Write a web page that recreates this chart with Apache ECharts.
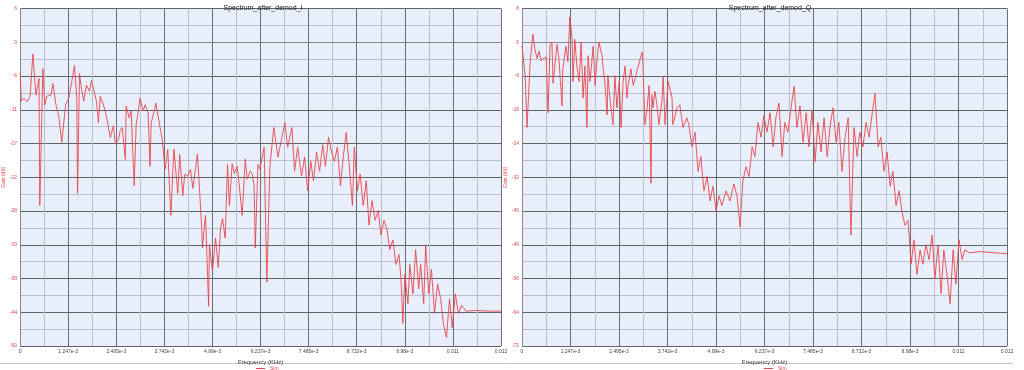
<!DOCTYPE html>
<html><head><meta charset="utf-8">
<script src="https://cdn.jsdelivr.net/npm/echarts@6/dist/echarts.min.js"></script>
<style>html,body{margin:0;padding:0;background:#fff}#c{width:1024px;height:370px}</style>
</head><body><div id="c"></div>
<script>
// frequency in units of 1e-3 KHz
const xTickLabels = ['0','1.247e-3','2.495e-3','3.742e-3','4.99e-3','6.237e-3','7.485e-3','8.732e-3','9.98e-3','0.011','0.012'];
const yTickLabelsI = ['6','0','-6','-11','-17','-22','-28','-33','-39','-44','-50'];
const yTickLabelsQ = ['8','0','-8','-16','-24','-32','-40','-48','-56','-64','-72'];

const freqI = [0,0.03,0.10,0.18,0.26,0.33,0.41,0.49,0.51,0.59,0.64,0.69,0.80,0.85,0.93,1.00,1.08,1.18,1.26,1.34,1.41,1.47,1.49,1.54,1.59,1.65,1.72,1.80,1.85,1.90,1.98,2.03,2.08,2.16,2.21,2.34,2.42,2.47,2.55,2.60,2.65,2.73,2.75,2.83,2.88,2.96,3.01,3.06,3.11,3.19,3.24,3.32,3.37,3.40,3.50,3.52,3.63,3.68,3.76,3.83,3.91,3.99,4.04,4.09,4.14,4.22,4.27,4.35,4.42,4.48,4.55,4.60,4.66,4.71,4.73,4.78,4.81,4.89,4.91,4.99,5.07,5.14,5.20,5.25,5.32,5.38,5.43,5.50,5.56,5.63,5.68,5.76,5.84,5.89,5.97,6.02,6.07,6.10,6.17,6.22,6.33,6.40,6.48,6.58,6.69,6.79,6.87,6.94,7.05,7.12,7.20,7.30,7.38,7.46,7.54,7.61,7.69,7.77,7.85,7.92,8.00,8.08,8.15,8.23,8.31,8.39,8.46,8.54,8.62,8.67,8.75,8.82,8.90,8.98,9.05,9.13,9.21,9.29,9.36,9.44,9.52,9.59,9.67,9.75,9.83,9.88,9.93,9.98,10.06,10.11,10.19,10.26,10.34,10.39,10.47,10.52,10.60,10.67,10.75,10.83,10.91,10.98,11.06,11.14,11.21,11.29,11.37,11.45,11.57,11.81,12.19,12.475];
const levelI = [-4.9,-9.6,-9.1,-9.7,-8.8,-1.9,-8.6,-5.9,-26.6,-4.3,-10.2,-8.8,-8.6,-6.7,-10.2,-12.0,-16.3,-10.2,-9.1,-6.4,-3.8,-9.1,-24.6,-5.1,-7.5,-9.6,-7.0,-8.0,-6.2,-5.9,-9.6,-13.1,-8.8,-10.2,-11.2,-15.5,-13.6,-16.6,-15.9,-14.3,-13.9,-19.1,-10.4,-12.3,-11.2,-23.4,-13.4,-11.5,-9.1,-11.2,-10.2,-11.5,-20.2,-13.1,-10.7,-9.9,-13.9,-15.5,-20.7,-17.5,-28.2,-17.4,-17.1,-24.6,-18.3,-25.0,-21.5,-21.8,-20.7,-23.8,-20.6,-18.2,-24.6,-30.3,-33.5,-29.8,-28.2,-43.0,-33.0,-37.3,-31.9,-36.7,-30.3,-28.7,-31.9,-19.9,-26.6,-19.8,-21.4,-20.2,-23.0,-28.2,-19.0,-22.3,-21.0,-21.4,-23.4,-33.5,-19.9,-20.7,-17.1,-39.1,-20.2,-13.9,-18.7,-15.5,-13.1,-17.1,-13.9,-21.0,-17.1,-21.8,-18.7,-24.2,-19.4,-22.6,-17.9,-21.0,-16.7,-20.2,-15.5,-17.9,-19.4,-17.1,-23.4,-18.3,-14.7,-20.2,-26.6,-17.1,-24.2,-21.5,-26.6,-22.6,-29.8,-25.8,-29.0,-27.4,-31.4,-29.0,-30.6,-33.8,-32.2,-36.2,-34.6,-38.6,-45.8,-37.8,-42.6,-36.2,-41.0,-33.8,-40.2,-36.2,-42.6,-33.0,-41.0,-37.0,-44.2,-39.4,-41.8,-45.8,-48.1,-41.8,-46.5,-41.0,-44.2,-42.9,-43.8,-43.7,-43.8,-43.8];

const freqQ = [0,0.08,0.13,0.21,0.28,0.33,0.39,0.44,0.49,0.54,0.62,0.67,0.72,0.77,0.80,0.85,0.90,0.95,1.03,1.05,1.13,1.18,1.23,1.29,1.31,1.36,1.41,1.47,1.52,1.57,1.62,1.67,1.70,1.75,1.83,1.88,1.93,1.98,2.06,2.08,2.13,2.19,2.21,2.26,2.34,2.39,2.44,2.50,2.55,2.60,2.65,2.70,2.73,2.80,2.86,2.91,2.96,3.01,3.09,3.11,3.16,3.22,3.27,3.32,3.34,3.37,3.42,3.47,3.52,3.60,3.63,3.68,3.76,3.81,3.86,3.88,3.99,4.06,4.14,4.24,4.29,4.37,4.45,4.53,4.60,4.68,4.76,4.84,4.91,4.99,5.07,5.14,5.25,5.35,5.45,5.53,5.61,5.68,5.76,5.84,5.92,5.99,6.07,6.15,6.22,6.30,6.38,6.46,6.53,6.61,6.69,6.76,6.84,6.92,7.00,7.07,7.15,7.23,7.31,7.38,7.46,7.54,7.61,7.69,7.77,7.85,7.92,8.00,8.08,8.15,8.23,8.31,8.39,8.46,8.54,8.62,8.69,8.77,8.85,8.93,9.00,9.08,9.16,9.23,9.31,9.39,9.47,9.54,9.62,9.70,9.77,9.85,9.93,10.01,10.08,10.16,10.24,10.31,10.39,10.47,10.55,10.62,10.70,10.78,10.85,10.93,11.01,11.09,11.16,11.24,11.32,11.39,11.52,11.78,12.17,12.475];
const levelQ = [-0.9,-7.9,-20.2,-4.6,1.9,-1.6,-3.9,-2.1,-4.4,-3.9,-3.5,-16.7,-0.9,0.0,-9.7,-9.3,-0.5,-3.9,-15.1,-6.3,-0.9,-4.6,6.0,0.7,-9.3,0.7,-5.6,-9.3,0.0,-13.2,-5.6,-20.2,-3.2,-9.3,-0.9,-10.2,-3.9,0.0,-3.2,-5.6,-9.3,-17.2,-7.9,-13.2,-19.5,-7.9,-15.5,-9.3,-20.2,-9.3,-5.6,-13.2,-10.2,-6.3,-10.2,-8.6,-6.7,-7.0,-2.3,-5.1,-19.5,-15.5,-10.2,-33.4,-12.5,-15.5,-11.6,-14.8,-19.5,-13.9,-8.1,-19.5,-9.3,-9.0,-13.2,-19.5,-15.5,-14.8,-20.2,-17.9,-19.5,-24.8,-21.3,-30.6,-27.1,-35.2,-31.8,-37.6,-34.1,-39.9,-36.4,-38.7,-35.2,-37.6,-33.6,-36.4,-43.8,-32.9,-29.5,-31.8,-24.8,-27.1,-19.0,-22.5,-17.4,-21.3,-16.7,-24.8,-17.9,-14.4,-27.1,-19.0,-21.3,-15.5,-10.4,-20.2,-15.1,-23.7,-16.7,-24.8,-16.0,-28.3,-19.0,-26.0,-17.9,-27.1,-20.2,-15.5,-23.7,-19.0,-30.6,-22.5,-17.9,-45.7,-20.2,-27.1,-21.3,-24.8,-19.0,-22.5,-17.4,-12.1,-24.8,-22.5,-30.6,-26.0,-34.1,-30.6,-38.7,-35.2,-39.9,-43.4,-42.2,-52.6,-46.8,-55.0,-49.2,-52.6,-48.0,-51.5,-45.7,-56.1,-48.0,-59.6,-49.2,-55.0,-61.9,-49.2,-57.3,-46.8,-51.5,-49.2,-49.9,-49.6,-49.9,-50.1];

const X_MAX = 12.475, X_STEP = 1.2475;
const pairs = (xs, ys) => xs.map((x, i) => [x, ys[i]]);

const chart = echarts.init(document.getElementById('c'));
const RED = '#e8454d';
function xAxis(gi) {
  return {
    type: 'value', gridIndex: gi, min: 0, max: X_MAX, interval: X_STEP,
    name: 'Frequency (KHz)', nameLocation: 'middle', nameGap: 8,
    nameTextStyle: { fontSize: 6, color: '#333', fontFamily: 'Liberation Sans' },
    axisLine: { show: true, lineStyle: { color: '#888', width: 1 } },
    axisTick: { show: false },
    axisLabel: { fontSize: 5, color: '#444', margin: 3, fontFamily: 'Liberation Sans',
      formatter: v => xTickLabels[Math.round(v / X_STEP)] ?? '' },
    splitLine: { show: true, lineStyle: { color: '#6a6e76', width: 1 } },
    minorTick: { show: false, splitNumber: 2 },
    minorSplitLine: { show: true, lineStyle: { color: '#b9c0cc', width: 1 } }
  };
}
function yAxis(gi, min, max, step, labels) {
  return {
    type: 'value', gridIndex: gi, min, max, interval: step,
    name: 'Gain (dB)', nameLocation: 'middle', nameGap: 11, nameRotate: 90,
    nameTextStyle: { fontSize: 5, color: RED, fontFamily: 'Liberation Sans' },
    axisLine: { show: true, lineStyle: { color: '#888', width: 1 } },
    axisTick: { show: false },
    axisLabel: { fontSize: 5, color: RED, margin: 3, fontFamily: 'Liberation Sans',
      formatter: v => labels[Math.round((max - v) / step)] ?? '' },
    splitLine: { show: true, lineStyle: { color: '#5e626a', width: 1 } },
    minorTick: { show: false, splitNumber: 2 },
    minorSplitLine: { show: true, lineStyle: { color: '#b9c0cc', width: 1 } }
  };
}
const lineSeries = (name, gi, data) => ({
  name, type: 'line', xAxisIndex: gi, yAxisIndex: gi, data, showSymbol: false,
  symbol: 'none', lineStyle: { color: RED, width: 0.9 }, itemStyle: { color: RED }, animation: false
});
const legendItem = (left) => ({
  left, top: 366, itemWidth: 9, itemHeight: 1, itemGap: 2, icon: 'rect',
  data: [{ name: 'Sim', itemStyle: { color: RED, borderWidth: 0 } }],
  itemStyle: { color: RED, borderWidth: 0 }, lineStyle: { color: RED },
  textStyle: { fontSize: 5, color: RED, fontFamily: 'Liberation Sans' }, padding: 0
});

chart.setOption({
  animation: false,
  backgroundColor: '#ffffff',
  title: [
    { text: 'Spectrum_after_demod_I', left: 258, top: 0, textAlign: 'center',
      textStyle: { fontSize: 7, fontWeight: 'normal', color: '#222', fontFamily: 'Liberation Sans' } },
    { text: 'Spectrum_after_demod_Q', left: 765, top: 0, textAlign: 'center',
      textStyle: { fontSize: 7, fontWeight: 'normal', color: '#222', fontFamily: 'Liberation Sans' } }
  ],
  legend: [legendItem(256), legendItem(764)],
  grid: [
    { left: 16, top: 8.5, width: 485, height: 345, show: true, backgroundColor: '#e9eefb', borderWidth: 0 },
    { left: 522, top: 8.5, width: 485, height: 345, show: true, backgroundColor: '#e9eefb', borderWidth: 0 }
  ],
  xAxis: [xAxis(0), xAxis(1)],
  yAxis: [yAxis(0, -49.5, 5.5, 5.5, yTickLabelsI), yAxis(1, -72, 8, 8, yTickLabelsQ)],
  series: [lineSeries('Sim', 0, pairs(freqI, levelI)), lineSeries('Sim', 1, pairs(freqQ, levelQ))],
  graphic: [
    { type: 'line', shape: { x1: 0, y1: 363.5, x2: 1013, y2: 363.5 }, style: { stroke: '#c4c4c4', lineWidth: 1 }, z: -1 }
  ]
});
</script></body></html>
